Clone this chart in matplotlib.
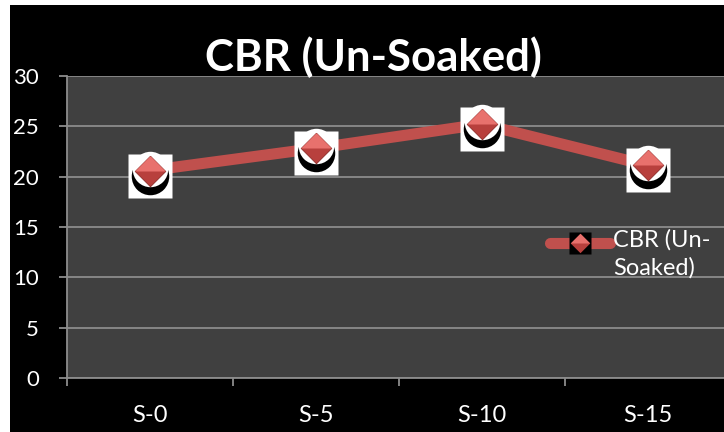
#!/usr/bin/env python3
"""CBR (Un-Soaked) line chart, Excel-style dark theme."""
import matplotlib
matplotlib.use("Agg")
import matplotlib.pyplot as plt
from matplotlib.lines import Line2D
from matplotlib.patches import Rectangle
from matplotlib.transforms import offset_copy

categories = ["S-0", "S-5", "S-10", "S-15"]
cbr_unsoaked = [20.6, 22.8, 25.2, 21.1]
yticks = [0, 5, 10, 15, 20, 25, 30]

RED = "#C0504D"
RED_LIGHT = "#E8716D"
GRID = "#8C8C8C"
PLOT_BG = "#404040"
FONT = "Lato"

W, H = 724, 432
fig = plt.figure(figsize=(W / 100, H / 100), dpi=100, facecolor="white")

# black chart area with thin white margin on top/left
fig.add_artist(Rectangle((10 / W, 0), 1, (H - 5) / H, transform=fig.transFigure,
                         facecolor="black", edgecolor="none", zorder=0))

ax = fig.add_axes([66.7 / W, 1 - 378.3 / H, (731 - 66.7) / W, (378.3 - 75.7) / H])
ax.set_facecolor(PLOT_BG)
x = list(range(len(categories)))

ax.plot(x, cbr_unsoaked, color=RED, lw=8, solid_capstyle="butt", zorder=3)

# picture-style markers: white box, black ring, red diamond
down = offset_copy(ax.transData, fig=fig, x=0, y=-5, units="dots")
up = offset_copy(ax.transData, fig=fig, x=0, y=2, units="dots")
ax.plot(x, cbr_unsoaked, ls="none", marker="s", ms=31.7, mfc="white", mec="none",
        transform=down, zorder=4)
ax.plot(x, cbr_unsoaked, ls="none", marker="o", ms=27, mfc="black", mec="none",
        transform=down, zorder=5)
ax.plot(x, cbr_unsoaked, ls="none", marker="o", ms=25.5, mfc="white", mec="none",
        transform=up, zorder=6)
diamond = [(0, 1), (1, 0), (0, -1), (-1, 0), (0, 1)]
top_half = [(-1, 0), (0, 1), (1, 0), (-1, 0)]
ax.plot(x, cbr_unsoaked, ls="none", marker=diamond, ms=22, mfc="#B8403D",
        mec="#8E2B28", mew=0.6, zorder=7)
ax.plot(x, cbr_unsoaked, ls="none", marker=top_half, ms=22, mfc=RED_LIGHT,
        mec="none", zorder=8)

ax.set_xlim(-0.5, len(categories) - 0.5)
ax.set_ylim(0, 30)
ax.set_yticks(yticks)
ax.set_yticklabels([str(v) for v in yticks])
ax.set_xticks(x)
ax.set_xticklabels(categories)
ax.set_xticks([i - 0.5 for i in range(len(categories) + 1)], minor=True)

ax.grid(axis="y", color=GRID, lw=1.3, zorder=1)
ax.set_axisbelow(True)
for side in ("top", "right"):
    ax.spines[side].set_visible(False)
for side in ("left", "bottom"):
    ax.spines[side].set_color(GRID)
    ax.spines[side].set_linewidth(1.3)

ax.tick_params(axis="y", which="major", length=6, width=1.3, color=GRID,
               labelcolor="white", labelsize=16, pad=14)
ax.tick_params(axis="x", which="major", length=0, labelcolor="white",
               labelsize=17, pad=19)
ax.tick_params(axis="x", which="minor", length=6, width=1.3, color=GRID)
for lab in ax.get_xticklabels() + ax.get_yticklabels():
    lab.set_family(FONT)

fig.text(373 / W, 1 - 71 / H, "CBR (Un-Soaked)", ha="center", va="baseline",
         color="white", fontsize=31.5, fontweight="bold", family=FONT)

# legend drawn by hand: handle aligned with first text line
ly = 1 - 243 / H
fig.add_artist(Line2D([550 / W, 610 / W], [ly, ly], transform=fig.transFigure,
                      color=RED, lw=8, solid_capstyle="round"))
fig.add_artist(Line2D([580 / W], [ly], transform=fig.transFigure, ls="none",
                      marker="s", ms=16, mfc="black", mec="none"))
fig.add_artist(Line2D([580 / W], [ly], transform=fig.transFigure, ls="none",
                      marker=diamond, ms=14, mfc="#B8403D", mec="none"))
fig.add_artist(Line2D([580 / W], [ly], transform=fig.transFigure, ls="none",
                      marker=top_half, ms=14, mfc=RED_LIGHT, mec="none"))
fig.text(613 / W, 1 - 229 / H, "CBR (Un-\nSoaked)", ha="left", va="top",
         color="white", fontsize=17, family=FONT, linespacing=1.35)

fig.savefig("out.png", dpi=100, facecolor="white")
